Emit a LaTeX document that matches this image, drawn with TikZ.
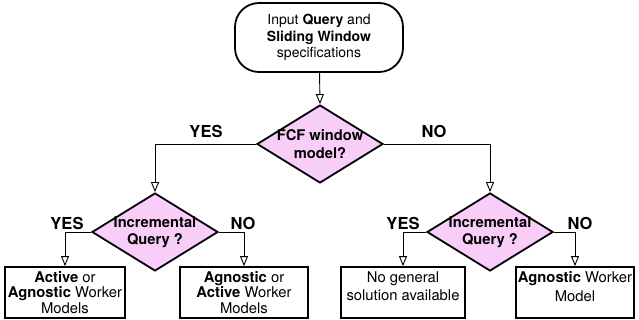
\documentclass[tikz,border=0pt]{standalone}
\usepackage{fontspec}
\setmainfont{TeX Gyre Heros}
\usetikzlibrary{shapes.geometric,arrows.meta}
\definecolor{dpink}{RGB}{248,206,248}
\tikzset{
  txt/.style={font=\fontsize{14.8}{15.2}\selectfont, align=center},
  startbox/.style={draw, line width=1.8pt, rounded corners=24pt, minimum width=168pt, minimum height=69pt, inner sep=0pt, align=center, font=\fontsize{14}{16.2}\selectfont},
  decision/.style={draw, diamond, fill=dpink, line width=1.8pt, minimum width=126pt, minimum height=78pt, inner sep=0pt},
  endbox/.style={draw, rectangle, line width=1.8pt, minimum height=51pt, inner sep=0pt, txt},
  conn/.style={line width=0.9pt, -{Triangle[open,length=10pt,width=8pt]}},
  branch/.style={font=\fontsize{16.5}{18}\selectfont\bfseries},
}
\begin{document}
\begin{tikzpicture}[x=1pt,y=-1pt]
\useasboundingbox (0,0) rectangle (639,320);
\node[startbox] (start) at (319,37.5) {Input \textbf{Query} and\\ \textbf{Sliding Window}\\ specifications};
\node[decision, label={[align=center,font=\fontsize{14.7}{18}\selectfont\bfseries]center:FCF window\\model?}] (fcf) at (320,144) {};
\node[decision, label={[align=center,font=\fontsize{14.7}{17}\selectfont\bfseries]center:Incremental\\Query ?}] (inc1) at (155,232) {};
\node[decision, label={[align=center,font=\fontsize{14.7}{17}\selectfont\bfseries]center:Incremental\\Query ?}] (inc2) at (490,232) {};
\node[endbox, minimum width=120pt] (b1) at (65,292.5) {\textbf{Active} or\\ \textbf{Agnostic} Worker\\ Models};
\node[endbox, minimum width=128pt] (b2) at (244,292.5) {\textbf{Agnostic} or\\ \textbf{Active} Worker\\ Models};
\node[endbox, minimum width=124pt, label={[align=center,font=\fontsize{14.8}{18.3}\selectfont,yshift=6pt]center:No general\\solution available}] (b3) at (403,292.5) {};
\node[endbox, minimum width=118pt, label={[align=center,font=\fontsize{14.8}{18.3}\selectfont,yshift=6pt]center:\textbf{Agnostic} Worker\\Model}] (b4) at (575,292.5) {};

\draw[conn] (start) -- (fcf.north);
\draw[conn] (fcf.west) -| (inc1.north);
\draw[conn] (fcf.east) -| (inc2.north);
\draw[conn] (inc1.west) -| (b1.north);
\draw[conn] (inc1.east) -| (b2.north);
\draw[conn] (inc2.west) -| (b3.north);
\draw[conn] (inc2.east) -| (b4.north);

\node[branch] (y0) at (206,131) {YES};
\node[branch] (n0) at (434,131) {NO};
\node[branch] (y1) at (67,223) {YES};
\node[branch] (n1) at (243,223) {NO};
\node[branch] (y2) at (403,223) {YES};
\node[branch] (n2) at (580,223) {NO};
\end{tikzpicture}
\end{document}
